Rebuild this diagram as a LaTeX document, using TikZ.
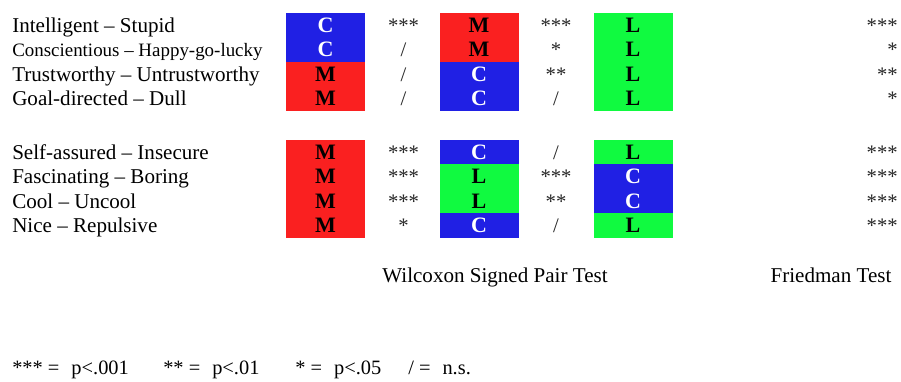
\documentclass[tikz,border=0pt]{standalone}
\usepackage{fontspec}
\setmainfont{Liberation Serif}

\definecolor{colM}{RGB}{250,32,32}
\definecolor{colC}{RGB}{32,32,228}
\definecolor{colL}{RGB}{16,250,64}
\colorlet{txtM}{black}
\colorlet{txtC}{white}
\colorlet{txtL}{black}

\tikzstyle{lbl}  = [anchor=base west, inner sep=0pt, font=\fontsize{15.8}{18}\selectfont]
\tikzstyle{sig}  = [anchor=base, inner sep=0pt, text=black!85, font=\fontsize{15.5}{18}\selectfont]
\tikzset{cell/.style={fill=col#1, text=txt#1, minimum width=59.25pt, minimum height=18.4pt,
  inner sep=0pt, font=\bfseries\fontsize{16.5}{18}\selectfont}}
\def\ns{/}
\def\lblsm{\fontsize{14.2}{16}\selectfont}

\begin{document}
\begin{tikzpicture}[x=0.75pt, y=-0.75pt]
  \useasboundingbox (0,0) rectangle (901,382);

  % word pairs
  \foreach \y/\txt [count=\i] in {25/Intelligent \textendash{} Stupid,
      49.5/{\lblsm Conscientious \textendash{} Happy-go-lucky},
      74/Trustworthy \textendash{} Untrustworthy, 98.5/Goal-directed \textendash{} Dull,
      152/Self-assured \textendash{} Insecure, 176.5/Fascinating \textendash{} Boring,
      201/Cool \textendash{} Uncool, 225.5/Nice \textendash{} Repulsive}
    \node[lbl] (pair\i) at (12,\y+7) {\txt};

  % ranking and tests
  \foreach \y/\a/\sa/\b/\sb/\c/\f [count=\i] in {25/C/***/M/***/L/***, 49.5/C/\ns/M/*/L/*,
      74/M/\ns/C/**/L/**, 98.5/M/\ns/C/\ns/L/*, 152/M/***/C/\ns/L/***,
      176.5/M/***/L/***/C/***, 201/M/***/L/**/C/***, 225.5/M/*/C/\ns/L/***}
  {
    \node[cell=\a] (rank1-\i) at (325.5,\y) {\a};
    \node[sig] (sig1-\i) at (403.5,\y+7) {\sa};
    \node[cell=\b] (rank2-\i) at (479,\y) {\b};
    \node[sig] (sig2-\i) at (556,\y+7) {\sb};
    \node[cell=\c] (rank3-\i) at (633,\y) {\c};
    \node[sig, anchor=base east] (fried\i) at (898,\y+7) {\f};
  }

  \node[lbl, anchor=base] (wilcoxon) at (495,282) {Wilcoxon Signed Pair Test};
  \node[lbl, anchor=base] (friedman) at (831,282) {Friedman Test};

  % legend
  \foreach \x/\s/\p [count=\i] in {12/***/p<.001, 163/**/p<.01, 295/*/p<.05, 408/\ns/n.s.}
    \node[lbl, font=\fontsize{15.3}{18}\selectfont] (key\i) at (\x,374) {\s{} =\hspace{9pt}\p};
\end{tikzpicture}
\end{document}
